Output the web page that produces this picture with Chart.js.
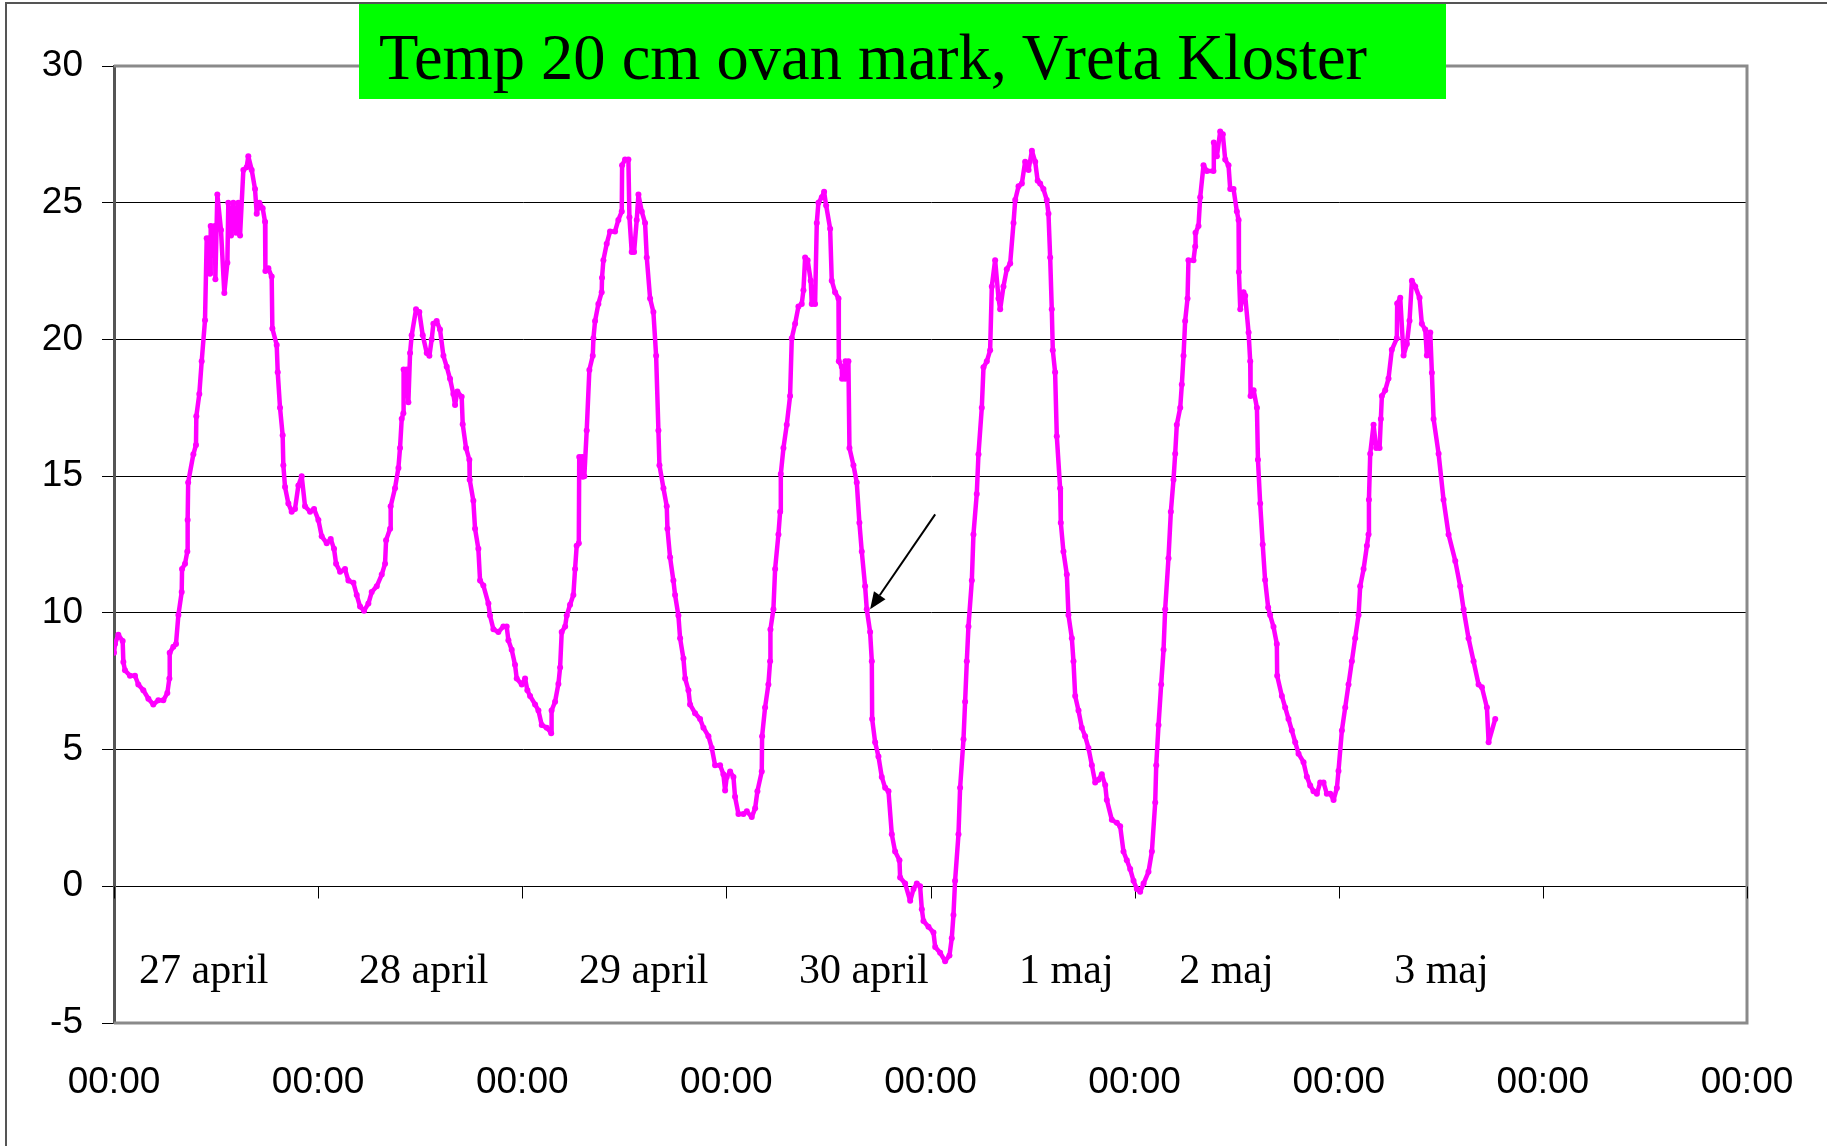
<!DOCTYPE html>
<html lang="sv">
<head>
    <meta charset="UTF-8">
    <title>Temp 20 cm ovan mark, Vreta Kloster</title>
    <script src="https://cdn.jsdelivr.net/npm/chart.js@4.4.1/dist/chart.umd.min.js"></script>
    <style>
        html, body { margin: 0; padding: 0; background: #fff; overflow: hidden; }
        #wrap { position: relative; width: 1827px; height: 1146px; }
        #frame { position: absolute; left: 5px; top: 2px; width: 1900px; height: 1200px;
                 border-left: 2px solid #555; border-top: 2px solid #555; }
        #title { position: absolute; left: 359px; top: 4px; width: 1087px; height: 95px;
                 background: #00ff00; }
        #title span { position: absolute; left: 20px; top: 17px; line-height: 64px;
                      font: 64.5px "Liberation Serif", "Times New Roman", serif; color: #000; white-space: nowrap; }
        canvas { position: absolute; left: 0; top: 0; }
    </style>
</head>
<body>
<div id="wrap">
    <canvas id="chart" width="1827" height="1146"></canvas>
    <div id="frame"></div>
    <div id="title"><span>Temp 20 cm ovan mark, Vreta Kloster</span></div>
</div>

<script>
    // timmar från 27 april 00:00
    var hours = [
        0.00, 0.12, 0.51, 1.02, 1.10, 1.29, 1.88, 2.47, 2.86, 3.45, 4.04, 4.62, 5.21, 5.80, 6.27, 6.51, 6.55, 6.98, 7.29, 7.57,
        7.96, 8.00, 8.35, 8.62, 8.66, 8.72, 9.33, 9.64, 9.68, 10.03, 10.31, 10.70, 10.90, 11.21, 11.29, 11.37, 11.88, 11.92, 12.15, 12.58,
        12.97, 13.33, 13.44, 13.76, 14.03, 14.35, 14.62, 14.82, 15.21, 15.60, 15.79, 16.19, 16.58, 16.78, 17.09, 17.48, 17.76, 17.80, 18.15, 18.54,
        18.62, 19.13, 19.25, 19.52, 19.83, 19.91, 20.11, 20.50, 20.89, 21.28, 21.68, 22.07, 22.46, 23.05, 23.52, 24.03, 24.42, 25.01, 25.48, 25.87,
        26.11, 26.58, 27.16, 27.56, 28.15, 28.54, 28.93, 29.40, 29.91, 30.30, 30.89, 31.48, 31.87, 31.99, 32.46, 32.53, 33.04, 33.44, 33.63, 33.83,
        34.02, 34.05, 34.42, 34.61, 34.81, 35.00, 35.51, 35.90, 36.30, 36.77, 37.08, 37.35, 37.55, 37.94, 38.33, 38.73, 39.12, 39.51, 39.90, 40.10,
        40.37, 40.88, 41.00, 41.39, 41.78, 41.82, 42.25, 42.45, 42.84, 43.04, 43.43, 44.02, 44.21, 44.61, 45.19, 45.78, 46.17, 46.37, 46.76, 47.15,
        47.35, 47.94, 48.33, 48.60, 48.92, 49.51, 49.90, 50.29, 50.88, 51.40, 51.45, 51.86, 52.25, 52.45, 52.64, 53.04, 53.23, 53.62, 54.01, 54.21,
        54.40, 54.65, 54.70, 55.05, 55.10, 55.30, 55.58, 55.89, 56.29, 56.37, 56.56, 56.95, 57.34, 57.38, 57.54, 57.93, 58.32, 58.91, 59.30, 59.70,
        59.74, 60.09, 60.48, 60.60, 60.87, 61.15, 61.46, 61.66, 62.05, 62.44, 62.64, 63.03, 63.42, 63.74, 64.01, 64.13, 64.60, 64.99, 65.07, 65.38,
        65.77, 65.97, 66.36, 66.56, 66.95, 67.15, 67.54, 67.73, 68.32, 68.91, 69.30, 69.89, 70.28, 70.67, 71.26, 71.65, 71.85, 72.04, 72.44, 72.83,
        73.02, 73.42, 74.01, 74.40, 74.98, 75.38, 75.65, 76.16, 76.20, 76.55, 76.94, 77.14, 77.18, 77.53, 77.73, 78.12, 78.32, 78.40, 78.71, 79.10,
        79.49, 79.69, 80.08, 80.47, 80.86, 81.06, 81.26, 81.55, 81.92, 82.04, 82.43, 82.63, 82.82, 83.22, 83.49, 83.73, 84.20, 84.39, 84.78, 85.18,
        85.22, 85.57, 85.60, 85.96, 86.00, 86.35, 86.47, 86.94, 87.33, 87.64, 87.92, 88.31, 88.51, 88.90, 89.10, 89.14, 89.49, 89.88, 90.27, 90.67,
        91.06, 91.45, 91.84, 92.35, 92.43, 93.02, 93.61, 94.00, 94.39, 94.78, 94.98, 95.17, 95.76, 96.35, 96.55, 97.13, 97.72, 98.23, 98.50, 98.70,
        98.89, 99.29, 99.48, 99.88, 100.07, 100.27, 100.46, 100.86, 101.05, 101.44, 101.64, 102.03, 102.23, 102.62, 103.01, 103.21, 103.60, 104.00, 104.19, 104.58,
        104.97, 105.37, 105.76, 105.96, 106.35, 106.74, 107.13, 107.53, 107.92, 108.31, 108.60, 108.89, 109.28, 109.67, 109.87, 110.07, 110.26, 110.38, 110.65, 110.85,
        111.24, 111.32, 111.63, 112.03, 112.22, 112.62, 112.81, 113.01, 113.40, 113.79, 114.18, 114.57, 114.97, 115.36, 115.75, 116.14, 116.54, 116.73, 117.32, 117.91,
        118.30, 118.69, 119.08, 119.48, 119.87, 120.26, 120.65, 121.05, 121.63, 122.03, 122.42, 122.54, 122.81, 123.12, 123.40, 123.59, 123.98, 124.26, 124.57, 124.77,
        124.96, 125.36, 125.55, 125.75, 125.94, 126.22, 126.33, 126.92, 127.12, 127.16, 127.51, 127.71, 128.10, 128.49, 129.27, 129.31, 129.67, 130.06, 130.37, 130.65,
        131.04, 131.24, 131.63, 132.02, 132.22, 132.26, 132.42, 132.81, 133.00, 133.40, 133.59, 133.63, 133.99, 134.38, 134.50, 134.76, 135.06, 135.34, 135.70, 135.93,
        136.33, 136.72, 136.76, 137.31, 137.70, 138.09, 138.48, 138.88, 139.27, 139.86, 140.25, 140.64, 141.03, 141.43, 141.82, 142.21, 142.60, 143.00, 143.39, 143.78,
        143.97, 144.37, 144.76, 145.15, 145.54, 145.93, 146.33, 146.52, 146.92, 147.31, 147.50, 147.55, 147.70, 148.09, 148.40, 148.80, 148.95, 149.07, 149.46, 149.85,
        150.24, 150.83, 150.87, 151.23, 151.62, 152.01, 152.32, 152.60, 152.99, 153.50, 153.77, 154.17, 154.36, 154.76, 154.95, 155.15, 155.74, 156.32, 156.91, 157.70,
        158.28, 158.68, 159.26, 159.85, 160.44, 160.83, 161.42, 161.62, 162.40
    ];
    // °C
    var temps = [
        8.54, 8.86, 9.2, 8.97, 8.2, 7.9, 7.7, 7.7, 7.38, 7.17, 6.86, 6.65, 6.8, 6.8, 7.07, 7.6, 8.54, 8.76, 8.86, 9.92,
        10.76, 11.6, 11.8, 12.24, 13.4, 14.77, 15.8, 16.14, 17.19, 18.0, 19.2, 20.7, 23.7, 23.7, 22.4, 24.15, 24.15, 22.2, 25.3, 24.0,
        21.7, 22.8, 25.0, 23.8, 25.0, 23.9, 25.0, 23.8, 26.2, 26.3, 26.7, 26.2, 25.5, 24.6, 25.0, 24.8, 24.3, 22.5, 22.6, 22.3,
        20.4, 19.8, 18.8, 17.5, 16.5, 15.4, 14.6, 14.0, 13.7, 13.8, 14.66, 15.0, 13.9, 13.7, 13.8, 13.4, 12.8, 12.55, 12.7, 12.34,
        11.8, 11.5, 11.6, 11.18, 11.1, 10.65, 10.23, 10.08, 10.34, 10.76, 10.97, 11.4, 11.8, 12.66, 13.08, 13.9, 14.56, 15.3, 16.03, 17.1,
        17.3, 18.9, 18.9, 17.7, 19.5, 20.15, 21.1, 21.0, 20.15, 19.5, 19.4, 20.0, 20.57, 20.67, 20.36, 19.4, 19.0, 18.56, 18.0, 17.6,
        18.1, 17.9, 16.9, 16.03, 15.6, 14.87, 14.1, 13.08, 12.34, 11.18, 11.0, 10.34, 9.9, 9.4, 9.3, 9.5, 9.5, 9.0, 8.65, 8.1,
        7.6, 7.38, 7.6, 7.17, 6.96, 6.65, 6.43, 5.9, 5.8, 5.6, 6.43, 6.75, 7.4, 8.0, 9.3, 9.5, 9.9, 10.3, 10.65, 11.6,
        12.45, 12.55, 15.7, 15.7, 14.98, 15.0, 16.67, 18.88, 19.4, 20.04, 20.67, 21.3, 21.73, 22.26, 22.9, 23.5, 23.95, 23.95, 24.37, 24.68,
        26.37, 26.58, 26.58, 24.47, 23.2, 23.2, 24.37, 25.3, 24.68, 24.26, 23.0, 21.5, 21.0, 19.4, 16.67, 15.4, 14.56, 13.9, 13.08, 12.03,
        11.18, 10.65, 9.9, 9.07, 8.33, 7.6, 7.17, 6.65, 6.33, 6.12, 5.8, 5.49, 5.06, 4.43, 4.43, 4.1, 3.5, 4.0, 4.2, 4.0,
        3.27, 2.64, 2.64, 2.74, 2.53, 2.85, 3.48, 4.2, 5.49, 6.54, 7.38, 8.23, 9.39, 10.13, 11.6, 12.87, 13.7, 15.08, 16.03, 16.88,
        17.93, 20.04, 20.57, 21.2, 21.3, 21.8, 23.0, 22.9, 22.15, 21.3, 21.3, 24.26, 25.0, 25.2, 25.4, 24.9, 24.05, 22.15, 21.73, 21.5,
        19.2, 19.0, 18.56, 18.56, 19.2, 19.2, 16.03, 15.4, 14.77, 13.3, 12.24, 10.97, 10.13, 9.3, 8.23, 6.12, 5.27, 4.75, 4.0, 3.6,
        3.48, 1.9, 1.27, 0.95, 0.32, 0.1, -0.53, -0.1, 0.1, 0.0, -0.84, -1.27, -1.48, -1.69, -2.22, -2.43, -2.74, -2.53, -1.9, -1.05,
        0.2, 1.9, 3.6, 5.38, 6.75, 8.23, 9.5, 11.18, 12.87, 14.35, 15.8, 17.5, 18.98, 19.2, 19.6, 21.94, 22.9, 21.5, 21.1, 21.94,
        22.57, 22.78, 24.26, 25.1, 25.6, 25.7, 26.5, 26.2, 26.9, 26.5, 25.8, 25.7, 25.5, 25.1, 24.6, 23.0, 21.1, 19.6, 18.8, 16.46,
        14.56, 13.3, 12.24, 11.4, 9.92, 9.07, 8.23, 6.96, 6.43, 5.8, 5.49, 5.06, 4.43, 3.8, 3.9, 4.1, 3.7, 3.16, 2.43, 2.32,
        2.2, 1.27, 0.95, 0.63, 0.2, -0.1, -0.2, 0.1, 0.53, 1.27, 3.06, 4.43, 5.9, 7.38, 8.65, 10.13, 12.0, 13.7, 14.87, 15.82,
        16.88, 17.5, 18.35, 19.4, 20.67, 21.5, 22.9, 22.9, 23.4, 23.9, 24.15, 25.2, 26.37, 26.16, 26.16, 27.2, 26.7, 27.6, 27.5, 26.58,
        26.37, 25.5, 25.5, 24.68, 24.37, 22.47, 21.1, 21.73, 21.6, 20.25, 19.2, 17.93, 18.14, 17.5, 15.6, 14.0, 12.5, 11.2, 10.2, 9.92,
        9.49, 8.86, 7.7, 6.96, 6.54, 6.12, 5.7, 5.27, 4.85, 4.54, 4.01, 3.69, 3.48, 3.38, 3.8, 3.8, 3.38, 3.38, 3.16, 3.59,
        4.22, 5.7, 6.54, 7.38, 8.23, 9.07, 9.92, 10.97, 11.6, 12.45, 12.87, 14.14, 15.82, 16.88, 16.03, 16.03, 17.09, 17.93, 18.14, 18.57,
        19.62, 20.04, 21.31, 21.52, 19.41, 19.83, 20.68, 22.15, 21.94, 21.52, 20.57, 20.36, 19.41, 20.25, 18.78, 17.09, 15.82, 14.14, 12.87, 11.9,
        10.97, 10.13, 9.07, 8.23, 7.38, 7.28, 6.54, 5.27, 6.12
    ];

    var xTickLabel = '00:00';
    var dayLabels = ['27 april', '28 april', '29 april', '30 april', '1 maj', '2 maj', '3 maj'];
    var dayLabelHours = [2.94, 28.81, 54.68, 80.55, 106.42, 125.24, 150.52];
    var dayLabelTemp = -3.55;
    // pilen: från (timme, temp) till (timme, temp)
    var arrowFrom = [96.55, 13.6];
    var arrowTo = [88.9, 10.13];
</script>

<script>
    Chart.defaults.font.family = '"Liberation Sans", Arial, sans-serif';
    Chart.defaults.color = '#000';

    var points = [];
    for (var i = 0; i < hours.length; i++) {
        points.push({ x: hours[i], y: temps[i] });
    }

    var decorations = {
        id: 'decorations',
        beforeDatasetsDraw: function (chart) {
            var ctx = chart.ctx, a = chart.chartArea;
            var xs = chart.scales.x, ys = chart.scales.y;
            ctx.save();
            // plot area border (top, right, bottom)
            ctx.strokeStyle = '#8a8a8a';
            ctx.lineWidth = 3;
            ctx.beginPath();
            ctx.moveTo(a.left, a.top);
            ctx.lineTo(a.right, a.top);
            ctx.lineTo(a.right, a.bottom);
            ctx.lineTo(a.left, a.bottom);
            ctx.stroke();
            // tick marks on the zero line
            var y0 = Math.round(ys.getPixelForValue(0)) + 0.5;
            ctx.strokeStyle = '#000';
            ctx.lineWidth = 1;
            ctx.beginPath();
            xs.ticks.forEach(function (t) {
                var px = Math.round(xs.getPixelForValue(t.value)) + 0.5;
                ctx.moveTo(px, y0);
                ctx.lineTo(px, y0 + 12);
            });
            ctx.stroke();
            ctx.restore();
        },
        afterDatasetsDraw: function (chart) {
            var ctx = chart.ctx;
            var xs = chart.scales.x, ys = chart.scales.y;
            ctx.save();
            ctx.fillStyle = '#000';
            ctx.font = '42px "Liberation Serif", "Times New Roman", serif';
            ctx.textAlign = 'left';
            ctx.textBaseline = 'alphabetic';
            for (var i = 0; i < dayLabels.length; i++) {
                ctx.fillText(dayLabels[i], xs.getPixelForValue(dayLabelHours[i]), ys.getPixelForValue(dayLabelTemp));
            }
            // arrow
            var x1 = xs.getPixelForValue(arrowFrom[0]), y1 = ys.getPixelForValue(arrowFrom[1]);
            var x2 = xs.getPixelForValue(arrowTo[0]), y2 = ys.getPixelForValue(arrowTo[1]);
            var ang = Math.atan2(y2 - y1, x2 - x1);
            var hl = 17, hw = 7;
            var bx = x2 - hl * Math.cos(ang), by = y2 - hl * Math.sin(ang);
            ctx.strokeStyle = '#000';
            ctx.lineWidth = 2;
            ctx.beginPath();
            ctx.moveTo(x1, y1);
            ctx.lineTo(bx, by);
            ctx.stroke();
            ctx.beginPath();
            ctx.moveTo(x2, y2);
            ctx.lineTo(bx + hw * Math.sin(ang), by - hw * Math.cos(ang));
            ctx.lineTo(bx - hw * Math.sin(ang), by + hw * Math.cos(ang));
            ctx.closePath();
            ctx.fill();
            ctx.restore();
        }
    };

    var ctx = document.getElementById('chart').getContext('2d');
    var myChart = new Chart(ctx, {
        type: 'line',
        data: {
            datasets: [{
                label: 'Temp',
                data: points,
                borderColor: '#ff00ff',
                borderWidth: 4.5,
                backgroundColor: '#ff00ff',
                pointRadius: 3,
                pointBorderWidth: 0,
                pointBackgroundColor: '#ff00ff',
                tension: 0,
                borderJoinStyle: 'round',
                borderCapStyle: 'round',
                fill: false
            }]
        },
        options: {
            responsive: false,
            animation: false,
            devicePixelRatio: 1,
            events: [],
            layout: { padding: { left: 0, right: 80, top: 66, bottom: 0 } },
            plugins: {
                legend: { display: false },
                title: { display: false },
                tooltip: { enabled: false }
            },
            scales: {
                x: {
                    type: 'linear',
                    min: 0,
                    max: 192,
                    grid: { display: false, drawTicks: false },
                    border: { display: false },
                    ticks: {
                        stepSize: 24,
                        autoSkip: false,
                        maxRotation: 0,
                        padding: 38,
                        font: { size: 37 },
                        color: '#000',
                        callback: function () { return xTickLabel; }
                    },
                    afterFit: function (s) {
                        s.height = 123;
                        s.paddingLeft = 0;
                        s.paddingRight = 0;
                    }
                },
                y: {
                    min: -5,
                    max: 30,
                    grid: {
                        color: function (c) {
                            var v = c.tick ? c.tick.value : null;
                            return (v === 30 || v === -5) ? 'rgba(0,0,0,0)' : '#000';
                        },
                        lineWidth: 1,
                        tickColor: '#000',
                        tickWidth: 1,
                        tickLength: 12,
                        drawTicks: true
                    },
                    border: { display: true, color: '#555', width: 3 },
                    ticks: {
                        stepSize: 5,
                        padding: 19,
                        font: { size: 37 },
                        color: '#000'
                    },
                    afterFit: function (s) { s.width = 114; }
                }
            }
        },
        plugins: [decorations]
    });
</script>
</body>
</html>
